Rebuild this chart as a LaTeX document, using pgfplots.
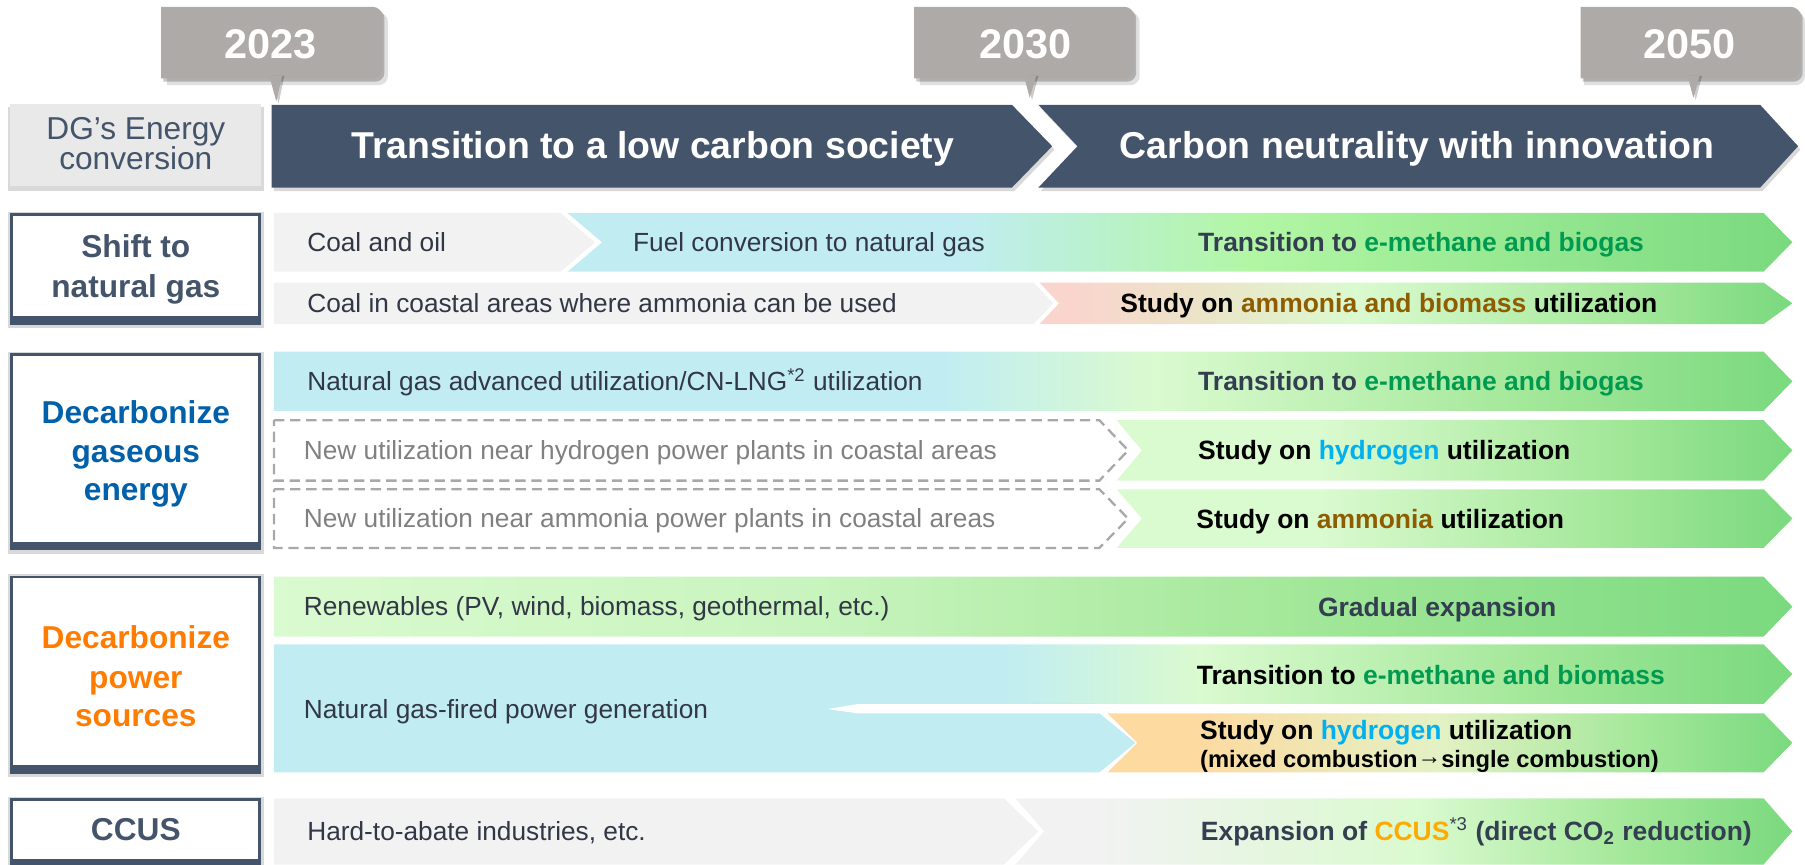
\documentclass[border=0pt]{standalone}
\usepackage{pgfplots}
\pgfplotsset{compat=1.18}
\usepackage{fontspec}
\setmainfont{Liberation Sans}
\definecolor{slate}{RGB}{68,84,106}
\definecolor{txt}{RGB}{50,55,70}
\definecolor{rtxt}{RGB}{51,63,80}
\definecolor{callout}{RGB}{173,170,168}
\definecolor{hdrbox}{RGB}{233,233,233}
\definecolor{rowgray}{RGB}{242,242,242}
\definecolor{cy}{RGB}{193,237,242}
\definecolor{lime}{RGB}{178,246,164}
\definecolor{pale}{RGB}{218,250,207}
\definecolor{paleb}{RGB}{200,244,190}
\definecolor{midg}{RGB}{165,232,155}
\definecolor{gr}{RGB}{122,217,126}
\definecolor{pink}{RGB}{249,213,205}
\definecolor{tan}{RGB}{236,228,200}
\definecolor{orng}{RGB}{253,218,160}
\definecolor{orngb}{RGB}{228,241,196}
\definecolor{gtxt}{RGB}{0,155,80}
\definecolor{brwn}{RGB}{143,92,0}
\definecolor{hyd}{RGB}{0,176,240}
\definecolor{sblue}{RGB}{0,96,170}
\definecolor{sorange}{RGB}{255,124,0}
\definecolor{ccusy}{RGB}{255,170,0}
\definecolor{dtxt}{RGB}{128,128,128}
\definecolor{dline}{RGB}{168,168,168}
\pgfdeclarehorizontalshading{shA}{100bp}{color(0bp)=(cy); color(25bp)=(cy); color(41bp)=(cy); color(53bp)=(lime); color(75bp)=(gr); color(100bp)=(gr)}
\pgfdeclarehorizontalshading{shB}{100bp}{color(0bp)=(pink); color(27bp)=(pink); color(36bp)=(tan); color(46bp)=(pale); color(64bp)=(midg); color(75bp)=(gr); color(100bp)=(gr)}
\pgfdeclarehorizontalshading{shC}{100bp}{color(0bp)=(cy); color(47bp)=(cy); color(54bp)=(pale); color(66bp)=(midg); color(75bp)=(gr); color(100bp)=(gr)}
\pgfdeclarehorizontalshading{shD}{100bp}{color(0bp)=(pale); color(40bp)=(pale); color(61bp)=(midg); color(75bp)=(gr); color(100bp)=(gr)}
\pgfdeclarehorizontalshading{shE}{100bp}{color(0bp)=(pale); color(25bp)=(pale); color(43bp)=(paleb); color(58bp)=(midg); color(75bp)=(gr); color(100bp)=(gr)}
\pgfdeclarehorizontalshading{shF}{100bp}{color(0bp)=(cy); color(49bp)=(cy); color(55.5bp)=(pale); color(66bp)=(midg); color(75bp)=(gr); color(100bp)=(gr)}
\pgfdeclarehorizontalshading{shG}{100bp}{color(0bp)=(orng); color(31.5bp)=(orng); color(49bp)=(orngb); color(63.5bp)=(midg); color(75bp)=(gr); color(100bp)=(gr)}
\pgfdeclarehorizontalshading{shH}{100bp}{color(0bp)=(rowgray); color(30bp)=(rowgray); color(51bp)=(pale); color(64bp)=(midg); color(75bp)=(gr); color(100bp)=(gr)}
\newcommand{\fn}{\fontsize{11.4}{13}\selectfont}
\newcommand{\fb}{\fontsize{11.5}{13}\selectfont\bfseries}
\newcommand{\fsm}{\fontsize{10.3}{12}\selectfont\bfseries}
\newcommand{\fsec}{\fontsize{13.75}{16}\selectfont\bfseries}
\newcommand{\fhdr}{\fontsize{13.75}{16}\selectfont}
\newcommand{\ftitle}{\fontsize{16.25}{18}\selectfont\bfseries}
\newcommand{\fyear}{\fontsize{18}{20}\selectfont\bfseries}
\begin{document}
\begin{tikzpicture}[tx/.style={inner sep=0pt, outer sep=0pt}]
\begin{axis}[
  scale only axis, width=784pt, height=375.5pt,
  xmin=0, xmax=1568, ymin=0, ymax=751, y dir=reverse,
  hide axis, clip=false, no markers,
  shd/.style={fill=black, draw=none, fill opacity=#1},
]
\addplot[draw=none] coordinates {(0,0) (1568,751)};
% ---- callouts
\addplot[shd=0.12, rounded corners=4pt] coordinates {(145,11) (337,11) (337,74) (145,74)};
\addplot[shd=0.22, rounded corners=4pt] coordinates {(142,8) (334,8) (334,71) (142,71)};
\addplot[fill=callout, draw=none, rounded corners=4pt] coordinates {(140,6) (332,6) (332,68) (140,68)};
\addplot[shd=0.2] coordinates {(236,66) (247,66) (242,90)};
\addplot[fill=callout, draw=none] coordinates {(234,66) (245,66) (240,88)};
\addplot[shd=0.12, rounded corners=4pt] coordinates {(799,11) (990,11) (990,74) (799,74)};
\addplot[shd=0.22, rounded corners=4pt] coordinates {(796,8) (987,8) (987,71) (796,71)};
\addplot[fill=callout, draw=none, rounded corners=4pt] coordinates {(794,6) (985,6) (985,68) (794,68)};
\addplot[shd=0.2] coordinates {(891.5,66) (902,66) (896.5,87)};
\addplot[fill=callout, draw=none] coordinates {(889.5,66) (900,66) (894.5,85)};
\addplot[shd=0.12, rounded corners=4pt] coordinates {(1376,11) (1568,11) (1568,74) (1376,74)};
\addplot[shd=0.22, rounded corners=4pt] coordinates {(1375,8) (1566,8) (1566,71) (1375,71)};
\addplot[fill=callout, draw=none, rounded corners=4pt] coordinates {(1373,6) (1564,6) (1564,68) (1373,68)};
\addplot[shd=0.2] coordinates {(1468,66) (1478.5,66) (1473,87)};
\addplot[fill=callout, draw=none] coordinates {(1466,66) (1476.5,66) (1471,85)};
% ---- header row
\addplot[shd=0.15] coordinates {(7,93) (229,93) (229,166) (7,166)};
\addplot[fill=hdrbox, draw=none] coordinates {(9,90) (227,90) (227,162) (9,162)};
\addplot[shd=0.15] coordinates {(238,94) (881,94) (916,130) (881,166) (238,166)};
\addplot[shd=0.15] coordinates {(904,94) (1531,94) (1564,130) (1531,166) (904,166) (938,130)};
\addplot[fill=slate, draw=none] coordinates {(236,91) (879,91) (914,127) (879,163) (236,163)};
\addplot[fill=slate, draw=none] coordinates {(902,91) (1529,91) (1562,127) (1529,163) (902,163) (936,127)};
% ---- section label boxes
\addplot[shd=0.15] coordinates {(7,184) (229,184) (229,285) (7,285)};
\addplot[fill=slate, draw=none] coordinates {(9,185) (227,185) (227,282) (9,282)};
\addplot[fill=white, draw=none] coordinates {(11.5,187.5) (224.5,187.5) (224.5,274.5) (11.5,274.5)};
\addplot[shd=0.15] coordinates {(7,306) (229,306) (229,481) (7,481)};
\addplot[fill=slate, draw=none] coordinates {(9,307) (227,307) (227,478) (9,478)};
\addplot[fill=white, draw=none] coordinates {(11.5,309.5) (224.5,309.5) (224.5,470.5) (11.5,470.5)};
\addplot[shd=0.15] coordinates {(7,499) (229,499) (229,675) (7,675)};
\addplot[fill=slate, draw=none] coordinates {(9,500) (227,500) (227,672) (9,672)};
\addplot[fill=white, draw=none] coordinates {(11.5,502.5) (224.5,502.5) (224.5,664.5) (11.5,664.5)};
\addplot[shd=0.15] coordinates {(7,692.5) (229,692.5) (229,751) (7,751)};
\addplot[fill=slate, draw=none] coordinates {(9,693.5) (227,693.5) (227,751) (9,751)};
\addplot[fill=white, draw=none] coordinates {(11.5,696) (224.5,696) (224.5,746) (11.5,746)};
% ---- row 1a
\addplot[fill=rowgray, draw=none] coordinates {(238,185) (487,185) (517,210.5) (487,236) (238,236)};
\addplot[shading=shA, draw=none] coordinates {(493,185) (1532,185) (1557,210.5) (1532,236) (493,236) (523,210.5)};
% ---- row 1b
\addplot[fill=rowgray, draw=none] coordinates {(238,245.5) (898,245.5) (915,263.5) (898,281.5) (238,281.5)};
\addplot[shading=shB, draw=none] coordinates {(903,245.5) (1532,245.5) (1557,263.5) (1532,281.5) (903,281.5) (920,263.5)};
% ---- row 2a
\addplot[shading=shC, draw=none] coordinates {(238,305.5) (1532,305.5) (1557,331.25) (1532,357) (238,357)};
% ---- row 2b
\addplot[draw=dline, line width=1pt, dash pattern=on 4.5pt off 2.5pt] coordinates {(238,365) (955,365) (980,391.25) (955,417.5) (238,417.5) (238,365)};
\addplot[shading=shD, draw=none] coordinates {(970,365) (1532,365) (1557,391.25) (1532,417.5) (970,417.5) (992,391.25)};
% ---- row 2c
\addplot[draw=dline, line width=1pt, dash pattern=on 4.5pt off 2.5pt] coordinates {(238,425) (955,425) (980,450.5) (955,476) (238,476) (238,425)};
\addplot[shading=shD, draw=none] coordinates {(970,425) (1532,425) (1557,450.5) (1532,476) (970,476) (992,450.5)};
% ---- row 3a
\addplot[shading=shE, draw=none] coordinates {(238,501) (1532,501) (1557,527) (1532,553) (238,553)};
% ---- row 3b
\addplot[shading=shF, draw=none] coordinates {(238,559.7) (1532,559.7) (1557,585.6) (1532,611.6) (238,611.6)};
\addplot[fill=cy, draw=none] coordinates {(238,611) (955,611) (955,619.6) (986.5,645.3) (955,671) (238,671)};
\addplot[fill=white, draw=none] coordinates {(719,616) (745,611.6) (1560,611.6) (1560,619.6) (745,619.6)};
\addplot[shading=shG, draw=none] coordinates {(962,619.6) (1532,619.6) (1557,645.3) (1532,671) (962,671) (988,645.3)};
% ---- row 4
\addplot[fill=rowgray, draw=none] coordinates {(238,693.5) (872,693.5) (902,722.2) (872,751) (238,751)};
\addplot[shading=shH, draw=none] coordinates {(882,693.5) (1532,693.5) (1557,722.2) (1532,751) (882,751) (907,722.2)};
% ================= TEXT
\node[tx, anchor=base, text=white, font=\fyear] at (axis cs:235,50.7) {2023};
\node[tx, anchor=base, text=white, font=\fyear] at (axis cs:891,50.7) {2030};
\node[tx, anchor=base, text=white, font=\fyear] at (axis cs:1468,50.7) {2050};
\node[tx, anchor=base, text=slate, font=\fhdr] at (axis cs:118,120.9) {DG’s Energy};
\node[tx, anchor=base, text=slate, font=\fhdr] at (axis cs:118,147.5) {conversion};
\node[tx, anchor=base, text=white, font=\ftitle] at (axis cs:567,137.5) {Transition to a low carbon society};
\node[tx, anchor=base, text=white, font=\ftitle] at (axis cs:1231,137.5) {Carbon neutrality with innovation};
% section labels
\node[tx, anchor=base, text=slate, font=\fsec] at (axis cs:118,224) {Shift to};
\node[tx, anchor=base, text=slate, font=\fsec] at (axis cs:118,258.4) {natural gas};
\node[tx, anchor=base, text=sblue, font=\fsec] at (axis cs:118,367.5) {Decarbonize};
\node[tx, anchor=base, text=sblue, font=\fsec] at (axis cs:118,401.4) {gaseous};
\node[tx, anchor=base, text=sblue, font=\fsec] at (axis cs:118,435) {energy};
\node[tx, anchor=base, text=sorange, font=\fsec] at (axis cs:118,563.6) {Decarbonize};
\node[tx, anchor=base, text=sorange, font=\fsec] at (axis cs:118,597.7) {power};
\node[tx, anchor=base, text=sorange, font=\fsec] at (axis cs:118,631) {sources};
\node[tx, anchor=base, text=slate, font=\fsec] at (axis cs:118,730.4) {CCUS};
% row texts
\node[tx, anchor=base west, text=txt, font=\fn] at (axis cs:267,218.5) {Coal and oil};
\node[tx, anchor=base west, text=txt, font=\fn] at (axis cs:550,218.5) {Fuel conversion to natural gas};
\node[tx, anchor=base, text=rtxt, font=\fb] at (axis cs:1234.5,218.7) {Transition to \textcolor{gtxt}{e-methane and biogas}};
\node[tx, anchor=base west, text=txt, font=\fn] at (axis cs:267,271.5) {Coal in coastal areas where ammonia can be used};
\node[tx, anchor=base, text=black, font=\fb] at (axis cs:1206.5,271.7) {Study on \textcolor{brwn}{ammonia and biomass} utilization};
\node[tx, anchor=base west, text=txt, font=\fn] at (axis cs:267,339) {Natural gas advanced utilization/CN-LNG\textsuperscript{*2} utilization};
\node[tx, anchor=base, text=rtxt, font=\fb] at (axis cs:1234.5,339.2) {Transition to \textcolor{gtxt}{e-methane and biogas}};
\node[tx, anchor=base west, text=dtxt, font=\fn] at (axis cs:264,399.2) {New utilization near hydrogen power plants in coastal areas};
\node[tx, anchor=base, text=black, font=\fb] at (axis cs:1202.5,399.4) {Study on \textcolor{hyd}{hydrogen} utilization};
\node[tx, anchor=base west, text=dtxt, font=\fn] at (axis cs:264,458.5) {New utilization near ammonia power plants in coastal areas};
\node[tx, anchor=base, text=black, font=\fb] at (axis cs:1199,458.7) {Study on \textcolor{brwn}{ammonia} utilization};
\node[tx, anchor=base west, text=txt, font=\fn] at (axis cs:264,535) {Renewables (PV, wind, biomass, geothermal, etc.)};
\node[tx, anchor=base, text=rtxt, font=\fb] at (axis cs:1248.5,535.2) {Gradual expansion};
\node[tx, anchor=base west, text=txt, font=\fn] at (axis cs:264,624) {Natural gas-fired power generation};
\node[tx, anchor=base, text=black, font=\fb] at (axis cs:1243,594.6) {Transition to \textcolor{gtxt}{e-methane and biomass}};
\node[tx, anchor=base west, text=black, font=\fb] at (axis cs:1042.6,642.2) {Study on \textcolor{hyd}{hydrogen} utilization};
\node[tx, anchor=base west, text=black, font=\fsm] at (axis cs:1042.6,667) {(mixed combustion\raisebox{0.12em}{→}single combustion)};
\node[tx, anchor=base west, text=txt, font=\fn] at (axis cs:267,730.2) {Hard-to-abate industries, etc.};
\node[tx, anchor=base, text=rtxt, font=\fb] at (axis cs:1282.5,730.4) {Expansion of \textcolor{ccusy}{CCUS}\textsuperscript{\mdseries*3} (direct CO\textsubscript{2} reduction)};
\end{axis}
\end{tikzpicture}
\end{document}
